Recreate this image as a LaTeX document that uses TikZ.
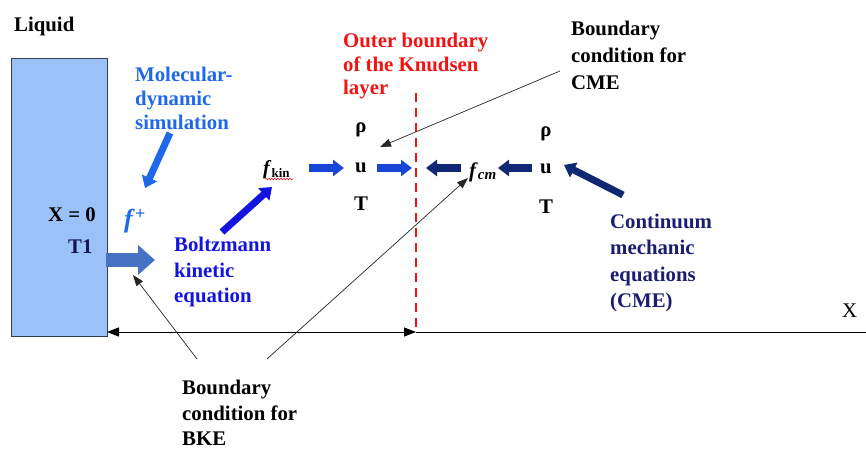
\documentclass[tikz,border=0pt]{standalone}
\usepackage{fontspec}
\setmainfont{Liberation Serif}
\usetikzlibrary{arrows.meta,decorations.pathmorphing}
\definecolor{boxfill}{RGB}{155,194,248}
\definecolor{boxline}{RGB}{50,60,80}
\definecolor{mdblue}{RGB}{30,105,235}
\definecolor{bkeblue}{RGB}{20,20,225}
\definecolor{arrblue}{RGB}{25,70,215}
\definecolor{navy}{RGB}{25,30,115}
\definecolor{navyarr}{RGB}{15,40,115}
\definecolor{tone}{RGB}{70,114,196}
\definecolor{kred}{RGB}{240,20,20}
\begin{document}
\begin{tikzpicture}[x=1pt,y=-1pt]
\tikzset{
 lbl/.style={anchor=north west, inner sep=0pt, align=left},
 bf/.style={font=\bfseries\fontsize{20.8}{#1}\selectfont},
 fat/.style={line width=7pt, -{Triangle[length=11pt,width=16pt]}},
 pointer/.style={line width=0.7pt, black!85, -{Triangle[length=11pt,width=8pt]}},
 sym/.style={inner sep=0pt, anchor=base, font=\bfseries\fontsize{20.8}{24}\selectfont}
}
\useasboundingbox (0,0) rectangle (866,449);

% liquid
\node[lbl, bf=26] (liquid) at (14,17) {Liquid};
\node[draw=boxline, line width=0.8pt, fill=boxfill, anchor=north west, inner sep=0pt,
      minimum width=96pt, minimum height=278pt] (box) at (11,58) {};
\node[inner sep=0pt, anchor=base west, font=\bfseries\fontsize{20.8}{24}\selectfont] (x0) at (48,221) {X = 0};
\node[inner sep=0pt, anchor=base west, font=\bfseries\fontsize{20.8}{24}\selectfont, text=navy!70!black] (t1) at (68,253) {T1};

% labels
\node[lbl, bf=24, text=mdblue] (md) at (135,67) {Molecular-\\dynamic\\simulation};
\node[inner sep=0pt, anchor=base west, text=mdblue, font=\bfseries\fontsize{26}{28}\selectfont] (fplus) at (124,227) {\textit{f}\raisebox{0.6ex}{\fontsize{18}{18}\selectfont +}};
\node[lbl, bf=25.5, text=bkeblue] (bke) at (174,237) {Boltzmann\\kinetic\\equation};
\node[lbl, bf=23.5, text=kred] (outer) at (343,33) {Outer boundary\\of the Knudsen\\layer};
\node[lbl, bf=27] (bccme) at (571,21) {Boundary\\condition for\\CME};
\node[lbl, bf=26.3, text=navy] (cme) at (610,214) {Continuum\\mechanic\\equations\\(CME)};
\node[lbl, bf=25.5] (bcbke) at (182,380) {Boundary\\condition for\\BKE};
\node[inner sep=0pt, anchor=base west, font=\fontsize{20.8}{24}\selectfont] (xaxis) at (842,317) {X};

% distribution functions
\node[inner sep=0pt, anchor=base west, font=\bfseries\fontsize{20}{24}\selectfont] (fkin) at (263,175) {\textit{f}\raisebox{-0.25ex}{\fontsize{13}{13}\selectfont kin}};
\draw[kred, line width=0.6pt, decorate, decoration={snake, amplitude=0.8pt, segment length=3pt}] (265,179) -- (293,179);
\node[inner sep=0pt, anchor=base west, font=\bfseries\fontsize{21}{24}\selectfont] (fcm) at (469,177) {\textit{f}\raisebox{-0.3ex}{\fontsize{15}{15}\selectfont\textit{cm}}};

% macroscopic quantities
\node[sym] (rhoL) at (361,133) {ρ};
\node[sym] (uL) at (361,172) {u};
\node[sym] (TL) at (361,210) {T};
\node[sym] (rhoR) at (546,137) {ρ};
\node[sym] (uR) at (546,174) {u};
\node[sym] (TR) at (546,213) {T};

% Knudsen layer boundary
\coordinate (kbtop) at (416,93);
\coordinate (kbbot) at (416,332);
\draw[kred, line width=2pt, dash pattern=on 9pt off 6pt] (kbtop) -- (kbbot);

% axis
\coordinate (axl) at (107,332);
\coordinate (axr) at (866,332);
\draw[line width=1pt, {Triangle[length=12pt,width=9pt]}-{Triangle[length=12pt,width=9pt]}] (axl) -- (kbbot);
\draw[line width=1pt] (kbbot) -- (axr);

% fat arrows
\coordinate (mdS) at (170,133); \coordinate (mdE) at (145,188);
\draw[fat, mdblue] (mdS) -- (mdE);
\coordinate (t1S) at (106,260); \coordinate (t1E) at (155,260);
\draw[tone, line width=14pt, -{Triangle[length=17pt,width=29pt]}] (t1S) -- (t1E);
\coordinate (bkS) at (222,232); \coordinate (bkE) at (272,187);
\draw[fat, bkeblue] (bkS) -- (bkE);
\coordinate (a1S) at (309,168); \coordinate (a1E) at (344,168);
\draw[fat, arrblue] (a1S) -- (a1E);
\coordinate (a2S) at (377,168); \coordinate (a2E) at (412,168);
\draw[fat, arrblue] (a2S) -- (a2E);
\coordinate (a3S) at (461,168); \coordinate (a3E) at (426,168);
\draw[fat, navyarr] (a3S) -- (a3E);
\coordinate (a4S) at (532,168); \coordinate (a4E) at (498,168);
\draw[fat, navyarr] (a4S) -- (a4E);
\coordinate (a5S) at (623,195); \coordinate (a5E) at (564,165);
\draw[fat, navyarr] (a5S) -- (a5E);

% pointers
\coordinate (pc1) at (560,71); \coordinate (pc1E) at (380,147);
\draw[pointer] (pc1) -- (pc1E);
\coordinate (pb1) at (197,359); \coordinate (pb1E) at (133,275);
\draw[pointer] (pb1) -- (pb1E);
\coordinate (pb2) at (267,359); \coordinate (pb2E) at (468,178);
\draw[pointer] (pb2) -- (pb2E);
\end{tikzpicture}
\end{document}
